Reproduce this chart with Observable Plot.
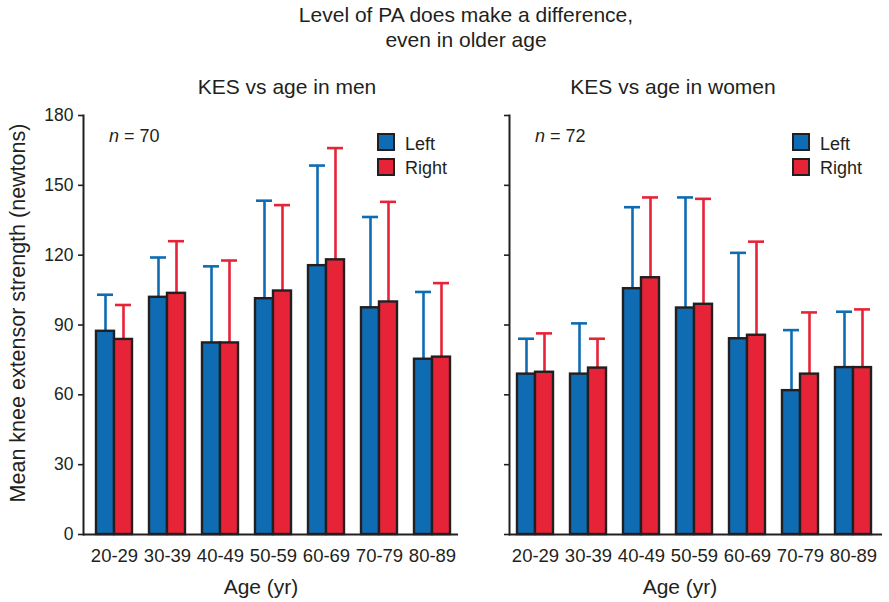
<!DOCTYPE html>
<html><head><meta charset="utf-8">
<script src="https://cdn.jsdelivr.net/npm/d3@7"></script>
<script src="https://cdn.jsdelivr.net/npm/@observablehq/plot@0.6"></script>
<style>
body{margin:0;background:#fff;}
#wrap{position:relative;width:889px;height:602px;font-family:"Liberation Sans",Arial,sans-serif;color:#231f20;background:#fff;}
#men,#women{position:absolute;top:100px;}
#men{left:0}
#women{left:440px}
#overlay{position:absolute;left:0;top:0;pointer-events:none}
</style></head><body>
<div id="wrap"><div id="men"></div><div id="women"></div><svg id="overlay" width="889" height="602"></svg></div>
<script>
// ---- data ----
const ages = ["20-29", "30-39", "40-49", "50-59", "60-69", "70-79", "80-89"];
const menLeft    = [87.3, 101.9, 82.3, 101.3, 115.5, 97.4, 75.3];
const menLeftSD  = [15.7, 17.1, 32.9, 42.1, 43.0, 39.0, 28.9];
const menRight   = [83.8, 103.6, 82.3, 104.6, 118.0, 99.9, 76.2];
const menRightSD = [14.8, 22.4, 35.4, 36.9, 48.0, 43.0, 31.8];
const womenLeft    = [68.9, 68.9, 105.6, 97.3, 84.1, 61.8, 71.7];
const womenLeftSD  = [15.2, 21.8, 35.0, 47.5, 36.9, 26.0, 24.0];
const womenRight   = [69.7, 71.5, 110.3, 98.9, 85.6, 68.9, 71.7];
const womenRightSD = [16.7, 12.6, 34.5, 45.3, 40.2, 26.5, 25.0];
const sides = ["Left", "Right"];
const yTicks = [0, 30, 60, 90, 120, 150, 180];
const titleLines = ["Level of PA does make a difference,", "even in older age"];
const panelTitles = ["KES vs age in men", "KES vs age in women"];
const nValues = [70, 72];
const yLabel = "Mean knee extensor strength (newtons)";
const xLabel = "Age (yr)";

const colors = {Left: "#0f6cb3", Right: "#e72437"};
const ink = "#231f20";

function rows(L, LSD, R, RSD) {
  return ages.flatMap((a, i) => [
    {age: a, side: "Left", value: L[i], upper: L[i] + LSD[i]},
    {age: a, side: "Right", value: R[i], upper: R[i] + RSD[i]}
  ]);
}

function panel(data, {width, marginLeft, marginRight, align, showLabels}) {
  const L = data.filter(d => d.side === "Left");
  const R = data.filter(d => d.side === "Right");
  const chart = Plot.plot({
    width, height: 470, marginTop: 15, marginBottom: 36, marginLeft, marginRight,
    style: {fontFamily: "Liberation Sans, Arial, sans-serif", color: ink, background: "transparent", overflow: "visible"},
    x: {domain: ages, paddingInner: 0.325, paddingOuter: 0.18, align},
    y: {domain: [0, 180]},
    marks: [
      Plot.ruleX(L, {x: "age", y1: "value", y2: "upper", dx: -9, stroke: colors.Left, strokeWidth: 2.6}),
      Plot.ruleX(R, {x: "age", y1: "value", y2: "upper", dx: 9, stroke: colors.Right, strokeWidth: 2.6}),
      Plot.tickY(L, {x: "age", y: "upper", insetLeft: 1, insetRight: 19, stroke: colors.Left, strokeWidth: 2.6}),
      Plot.tickY(R, {x: "age", y: "upper", insetLeft: 19, insetRight: 1, stroke: colors.Right, strokeWidth: 2.6}),
      Plot.barY(L, {x: "age", y: "value", insetRight: 18, fill: colors.Left, stroke: ink, strokeWidth: 2.4}),
      Plot.barY(R, {x: "age", y: "value", insetLeft: 18, fill: colors.Right, stroke: ink, strokeWidth: 2.4}),
      Plot.ruleY([0], {stroke: ink, strokeWidth: 2}),
      Plot.frame({anchor: "left", stroke: ink, strokeWidth: 2}),
      Plot.axisY({ticks: yTicks, tickSize: 5, tickPadding: 5, tickFormat: showLabels ? (d => String(d)) : (() => ""), label: null, fontSize: 17.5, stroke: ink, strokeWidth: 1.6, fill: ink}),
      Plot.axisX({tickSize: 0, tickPadding: 14, label: null, fontSize: 18.5, fill: ink})
    ]
  });
  d3.select(chart).selectAll('g[aria-label="x-axis tick label"]').attr("font-size", 18.5);
  return chart;
}

document.getElementById("men").append(panel(rows(menLeft, menLeftSD, menRight, menRightSD),
  {width: 470, marginLeft: 83, marginRight: 12, align: 0.625, showLabels: true}));
document.getElementById("women").append(panel(rows(womenLeft, womenLeftSD, womenRight, womenRightSD),
  {width: 449, marginLeft: 69, marginRight: 7, align: 0.42, showLabels: false}));

// ---- titles, labels, legends ----
const svg = d3.select("#overlay").style("font-family", "Liberation Sans, Arial, sans-serif").attr("fill", ink);
svg.append("text").attr("x", 466).attr("y", 22).attr("text-anchor", "middle").attr("font-size", 21).text(titleLines[0]);
svg.append("text").attr("x", 466).attr("y", 46.5).attr("text-anchor", "middle").attr("font-size", 21).text(titleLines[1]);
const panelX = [287, 673];
const frameLeft = [83, 509];
const legendX = [378, 793];
panelTitles.forEach((t, i) => {
  svg.append("text").attr("x", panelX[i]).attr("y", 94).attr("text-anchor", "middle").attr("font-size", 21).text(t);
  const nt = svg.append("text").attr("x", frameLeft[i] + 26).attr("y", 142).attr("font-size", 18);
  nt.append("tspan").attr("font-style", "italic").text("n");
  nt.append("tspan").text(" = " + nValues[i]);
  sides.forEach((s, j) => {
    svg.append("rect").attr("x", legendX[i]).attr("y", 134 + j * 25).attr("width", 16).attr("height", 16)
      .attr("fill", colors[s]).attr("stroke", ink).attr("stroke-width", 2);
    svg.append("text").attr("x", legendX[i] + 27).attr("y", 149.5 + j * 24.5).attr("font-size", 18).text(s);
  });
});
svg.append("text").attr("x", 261).attr("y", 594).attr("text-anchor", "middle").attr("font-size", 21).text(xLabel);
svg.append("text").attr("x", 680).attr("y", 594).attr("text-anchor", "middle").attr("font-size", 21).text(xLabel);
svg.append("text").attr("transform", "translate(25,313) rotate(-90)").attr("text-anchor", "middle").attr("font-size", 21.5).text(yLabel);
</script>
</body></html>
